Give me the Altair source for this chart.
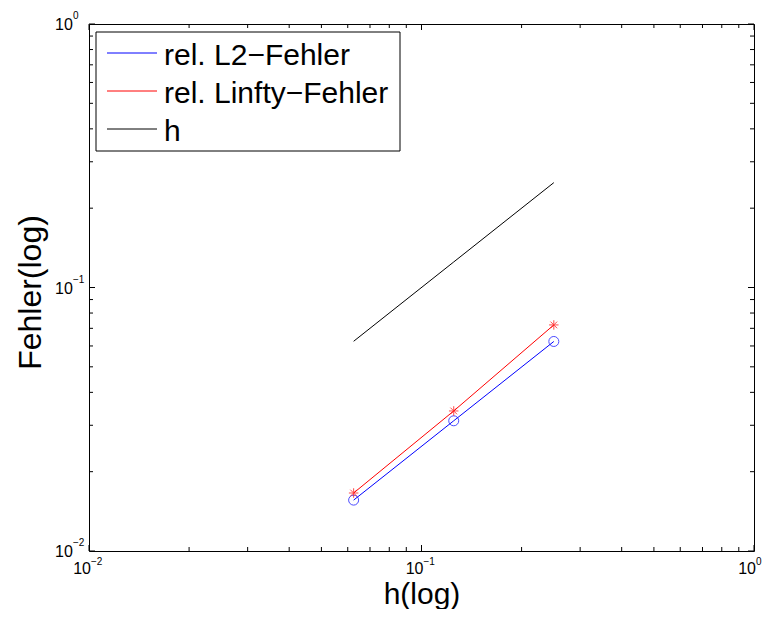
import altair as alt
import pandas as pd

# ---- data ----
h_vals = [0.0625, 0.125, 0.25]
l2_err = [0.0156, 0.0312, 0.0624]
linf_err = [0.0166, 0.0340, 0.0721]
h_ref = [0.0625, 0.125, 0.25]

legend_labels = ["rel. L2\u2212Fehler", "rel. Linfty\u2212Fehler", "h"]
legend_colors = ["blue", "red", "black"]

major_ticks = [0.01, 0.1, 1.0]
minor_ticks = [0.02, 0.03, 0.04, 0.05, 0.06, 0.07, 0.08, 0.09,
               0.2, 0.3, 0.4, 0.5, 0.6, 0.7, 0.8, 0.9]
tick_base = ["10", "10", "10"]
tick_exp = ["\u22122", "\u22121", "0"]

W, H = 665, 527
FONT = "Liberation Sans"

xs = alt.Scale(type="log", domain=[0.01, 1])
ys = alt.Scale(type="log", domain=[0.01, 1])
xaxis = alt.Axis(title="h(log)", labels=False, ticks=False, domain=False, grid=False,
                 titleFontSize=30, titleFont=FONT, titleFontWeight="normal",
                 titleColor="black", titleY=52, titleBaseline="alphabetic")
yaxis = alt.Axis(title="Fehler(log)", labels=False, ticks=False, domain=False, grid=False,
                 titleFontSize=32, titleFont=FONT, titleFontWeight="normal",
                 titleColor="black", titleX=-49, titleY=268, titleAngle=270,
                 titleBaseline="alphabetic", titleAlign="center")

df = pd.DataFrame({"h": h_vals, "l2": l2_err, "linf": linf_err, "href": h_ref})
X = alt.X("h:Q", scale=xs, axis=xaxis)

href_line = alt.Chart(df).mark_line(color="black", strokeWidth=1).encode(
    x=X, y=alt.Y("href:Q", scale=ys, axis=yaxis))
l2_line = alt.Chart(df).mark_line(color="blue", strokeWidth=1).encode(
    x=X, y=alt.Y("l2:Q", scale=ys, axis=yaxis))
l2_pts = alt.Chart(df).mark_point(shape="circle", filled=False, size=100,
                                  color="blue", strokeWidth=1).encode(
    x=X, y=alt.Y("l2:Q", scale=ys, axis=yaxis))
linf_line = alt.Chart(df).mark_line(color="red", strokeWidth=1).encode(
    x=X, y=alt.Y("linf:Q", scale=ys, axis=yaxis))
star = "M-1,0L1,0M0,-1L0,1M-0.7,-0.7L0.7,0.7M-0.7,0.7L0.7,-0.7"
linf_pts = alt.Chart(df).mark_point(shape=star, filled=False, size=90,
                                    color="red", strokeWidth=1).encode(
    x=X, y=alt.Y("linf:Q", scale=ys, axis=yaxis))

# ---- ticks (inward, all four sides) ----
tdf_major = pd.DataFrame({"t": major_ticks})
tdf_minor = pd.DataFrame({"t": minor_ticks})
tick_layers = []
for tdf, ln in ((tdf_major, 6), (tdf_minor, 4)):
    TX = alt.X("t:Q", scale=xs, axis=xaxis)
    TY = alt.Y("t:Q", scale=ys, axis=yaxis)
    base = alt.Chart(tdf).mark_rule(color="black", strokeWidth=1)
    tick_layers += [
        base.encode(x=TX, y=alt.value(H), y2=alt.value(H - ln)),
        base.encode(x=TX, y=alt.value(0), y2=alt.value(ln)),
        base.encode(y=TY, x=alt.value(0), x2=alt.value(ln)),
        base.encode(y=TY, x=alt.value(W), x2=alt.value(W - ln)),
    ]

# ---- tick labels ----
ldf = pd.DataFrame({"t": major_ticks, "base": tick_base, "exp": tick_exp})
TX = alt.X("t:Q", scale=xs, axis=xaxis)
TY = alt.Y("t:Q", scale=ys, axis=yaxis)
xl_base = alt.Chart(ldf).mark_text(font=FONT, fontSize=16, align="right", baseline="alphabetic",
                                   dx=2, color="black").encode(x=TX, y=alt.value(H + 23), text="base:N")
xl_exp = alt.Chart(ldf).mark_text(font=FONT, fontSize=10, align="left", baseline="alphabetic",
                                  dx=2, color="black").encode(x=TX, y=alt.value(H + 14), text="exp:N")
yl_base = alt.Chart(ldf).mark_text(font=FONT, fontSize=16, align="left", baseline="alphabetic",
                                   dy=6, color="black").encode(y=TY, x=alt.value(-34), text="base:N")
yl_exp = alt.Chart(ldf).mark_text(font=FONT, fontSize=10, align="left", baseline="alphabetic",
                                  dy=-5, color="black").encode(y=TY, x=alt.value(-16), text="exp:N")

# ---- legend ----
box = alt.Chart(pd.DataFrame({"a": [0]})).mark_rect(fill="white", stroke="black", strokeWidth=1).encode(
    x=alt.value(7), x2=alt.value(311), y=alt.value(8), y2=alt.value(127))
leg_layers = [box]
row_y = [29, 67, 105]
for lab, col, ry in zip(legend_labels, legend_colors, row_y):
    d = pd.DataFrame({"label": [lab]})
    leg_layers.append(alt.Chart(d).mark_rule(color=col, strokeWidth=1).encode(
        x=alt.value(18), x2=alt.value(68), y=alt.value(ry)))
    leg_layers.append(alt.Chart(d).mark_text(font=FONT, fontSize=30, align="left",
                                             baseline="alphabetic", color="black").encode(
        x=alt.value(75), y=alt.value(ry + 12), text="label:N"))

chart = alt.layer(
    href_line, l2_line, linf_line, l2_pts, linf_pts,
    *tick_layers, xl_base, xl_exp, yl_base, yl_exp, *leg_layers
).properties(
    width=W, height=H,
    autosize=alt.AutoSizeParams(type="none"),
    padding={"left": 81, "top": 16, "right": 8, "bottom": 58},
    background="white",
).configure_view(stroke="black", strokeWidth=1)

chart.save("out.html", embed_options={"renderer": "svg", "actions": False})
